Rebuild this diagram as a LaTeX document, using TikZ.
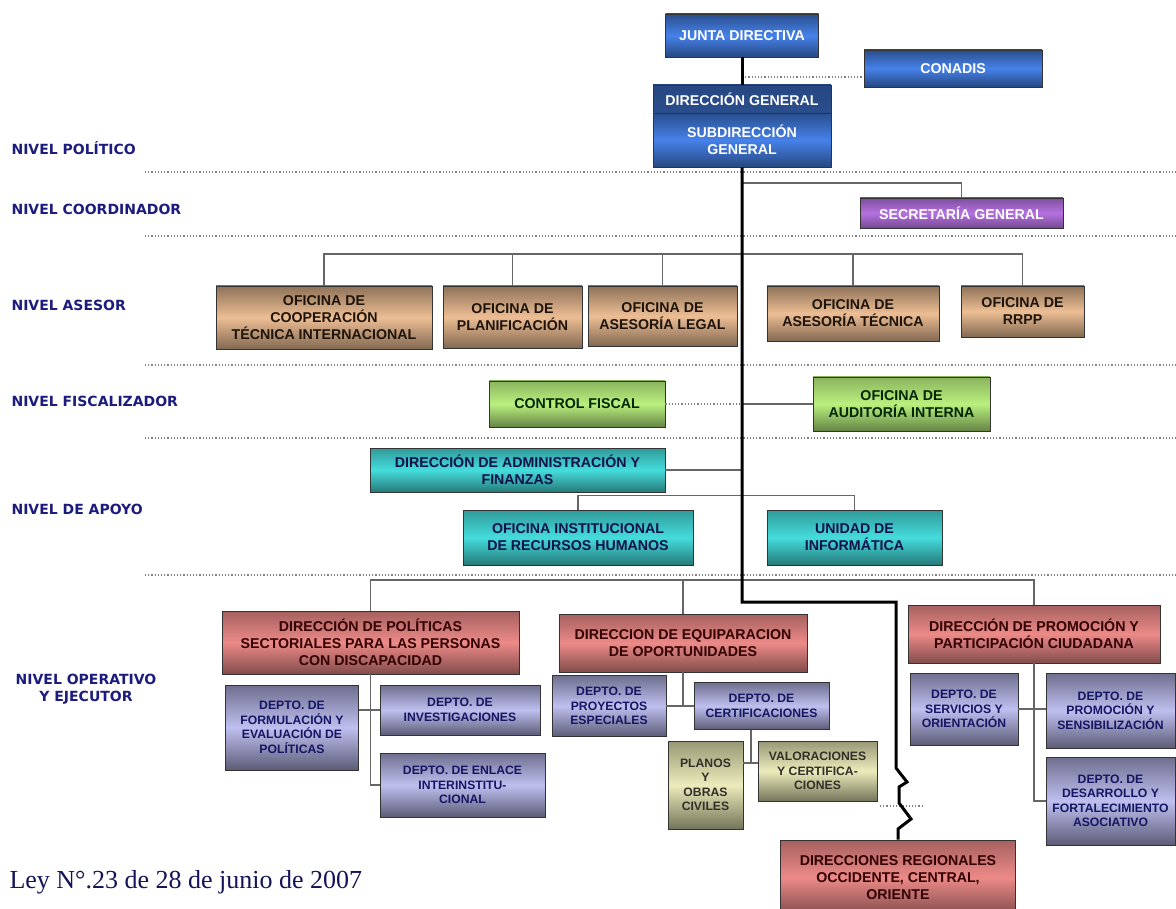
\documentclass[tikz,border=0pt]{standalone}
\usepackage{fontspec}
\setmainfont{Liberation Sans}
\newfontfamily\leyfont{Liberation Serif}
\newfontfamily\nivfont{DejaVu Sans}
\usepackage{tikz}

\definecolor{azul}{HTML}{4682EA}
\definecolor{lila}{HTML}{B571E0}
\definecolor{cuero}{HTML}{EDBE94}
\definecolor{verde}{HTML}{B9F07E}
\definecolor{turquesa}{HTML}{45DCDC}
\definecolor{rosa}{HTML}{EC8A88}
\definecolor{lavanda}{HTML}{B8B8EE}
\definecolor{caqui}{HTML}{E9E9B4}
\definecolor{marino}{HTML}{1C1C7E}

\tikzset{
  caja/.style={draw=black!80, line width=0.9pt, align=center, inner sep=1pt,
    font=\bfseries\fontsize{14.2}{17}\selectfont},
  depto/.style={caja, font=\bfseries\fontsize{12.2}{14.5}\selectfont},
  azulcaja/.style={caja, top color=azul!60!black, bottom color=azul!55!black, middle color=azul, text=white},
  lilacaja/.style={caja, top color=lila!70!black, bottom color=lila!65!black, middle color=lila, text=white},
  cuerocaja/.style={caja, top color=cuero!60!black, bottom color=cuero!55!black, middle color=cuero, text=black!85!brown},
  verdecaja/.style={caja, top color=verde!75!black, bottom color=verde!55!black, middle color=verde, text=black!85!green},
  turqcaja/.style={caja, top color=turquesa!70!black, bottom color=turquesa!55!black, middle color=turquesa, text=marino!60!black},
  rosacaja/.style={caja, top color=rosa!70!black, bottom color=rosa!55!black, middle color=rosa, text=black!80!red},
  lavcaja/.style={depto, top color=lavanda!60!black, bottom color=lavanda!50!black, middle color=lavanda!90!white, text=marino!80!black},
  caquicaja/.style={depto, top color=caqui!65!black, bottom color=caqui!50!black, middle color=caqui!90!white, text=black!85!olive},
  nivel/.style={text=marino, align=center, font=\nivfont\bfseries\fontsize{14}{16.5}\selectfont},
  sep/.style={gray, dotted, line width=1.2pt},
  linea/.style={black!60, line width=1.3pt},
  tronco/.style={black, line width=3pt},
}

\begin{document}
\begin{tikzpicture}[x=1pt, y=-1pt]

    \fill[white] (0,0) rectangle (1176,909);
    \useasboundingbox (0,0) rectangle (1176,909);

    \foreach \y in {172,236,365,438,575}
        \draw[sep] (145,\y) -- (1176,\y);

    \node[nivel, anchor=west] (npol) at (8,148) {NIVEL POLÍTICO};
    \node[nivel, anchor=west] (ncoo) at (8,209) {NIVEL COORDINADOR};
    \node[nivel, anchor=west] (nase) at (8,305) {NIVEL ASESOR};
    \node[nivel, anchor=west] (nfis) at (8,401) {NIVEL FISCALIZADOR};
    \node[nivel, anchor=west] (napo) at (8,509) {NIVEL DE APOYO};
    \node[nivel] (nope) at (86,689) {NIVEL OPERATIVO\\Y EJECUTOR};

    \node[anchor=west, text=marino!70!black, font=\leyfont\fontsize{26}{30}\selectfont] (ley) at (6,882) {Ley N°.23 de 28 de junio de 2007};

    \node[azulcaja, minimum width=153, minimum height=43] (jd) at (742,35.5) {JUNTA DIRECTIVA};
    \node[azulcaja, minimum width=178, minimum height=37] (con) at (953,68.5) {CONADIS};
    \node[azulcaja, top color=azul!55!black, middle color=azul!85!black, bottom color=azul!60!black, minimum width=178, minimum height=28] (dg) at (742,99) {DIRECCIÓN GENERAL};
    \node[azulcaja, minimum width=178, minimum height=54] (sdg) at (742,140) {SUBDIRECCIÓN\\GENERAL};
    \node[lilacaja, minimum width=203, minimum height=30] (sec) at (961.5,213) {SECRETARÍA GENERAL};

    \node[cuerocaja, minimum width=216, minimum height=63] (coop) at (324,317.5) {OFICINA DE\\COOPERACIÓN\\TÉCNICA INTERNACIONAL};
    \node[cuerocaja, minimum width=139, minimum height=62] (plan) at (512.5,317) {OFICINA DE\\PLANIFICACIÓN};
    \node[cuerocaja, minimum width=149, minimum height=60] (legal) at (662.5,316) {OFICINA DE\\ASESORÍA LEGAL};
    \node[cuerocaja, minimum width=172, minimum height=55] (tec) at (853,313.5) {OFICINA DE\\ASESORÍA TÉCNICA};
    \node[cuerocaja, minimum width=123, minimum height=51] (rrpp) at (1022.5,311.5) {OFICINA DE\\RRPP};

    \node[verdecaja, minimum width=176, minimum height=46] (cf) at (577,404) {CONTROL FISCAL};
    \node[verdecaja, minimum width=177, minimum height=54] (aud) at (901.5,404) {OFICINA DE\\AUDITORÍA INTERNA};

    \node[turqcaja, minimum width=295, minimum height=44] (adm) at (517.5,470) {DIRECCIÓN DE ADMINISTRACIÓN Y\\FINANZAS};
    \node[turqcaja, minimum width=230, minimum height=55] (rrhh) at (578,537.5) {OFICINA INSTITUCIONAL\\DE RECURSOS HUMANOS};
    \node[turqcaja, minimum width=175, minimum height=55] (inf) at (854.5,537.5) {UNIDAD DE\\INFORMÁTICA};

    \node[rosacaja, minimum width=297, minimum height=63] (pol) at (370.5,642.5) {DIRECCIÓN DE POLÍTICAS\\SECTORIALES PARA LAS PERSONAS\\CON DISCAPACIDAD};
    \node[rosacaja, minimum width=248, minimum height=58] (equ) at (683,643) {DIRECCION DE EQUIPARACION\\DE OPORTUNIDADES};
    \node[rosacaja, minimum width=252, minimum height=58] (prom) at (1034,634) {DIRECCIÓN DE PROMOCIÓN Y\\PARTICIPACIÓN CIUDADANA};
    \node[rosacaja, minimum width=235, minimum height=75] (reg) at (898,877.5) {DIRECCIONES REGIONALES\\OCCIDENTE, CENTRAL,\\ORIENTE};

    \node[lavcaja, minimum width=133, minimum height=85] (for) at (292,727.5) {DEPTO. DE\\FORMULACIÓN Y\\EVALUACIÓN DE\\POLÍTICAS};
    \node[lavcaja, minimum width=160, minimum height=50] (inv) at (460,710) {DEPTO. DE\\INVESTIGACIONES};
    \node[lavcaja, minimum width=165, minimum height=64] (enl) at (462.5,785) {DEPTO. DE ENLACE\\INTERINSTITU-\\CIONAL};
    \node[lavcaja, minimum width=114, minimum height=61] (pro) at (609,706) {DEPTO. DE\\PROYECTOS\\ESPECIALES};
    \node[lavcaja, minimum width=135, minimum height=47] (cer) at (761.5,706) {DEPTO. DE\\CERTIFICACIONES};
    \node[caquicaja, minimum width=75, minimum height=88] (pla) at (705.5,785) {PLANOS\\Y\\OBRAS\\CIVILES};
    \node[caquicaja, minimum width=119, minimum height=60] (val) at (817.5,771) {VALORACIONES\\Y CERTIFICA-\\CIONES};
    \node[lavcaja, minimum width=108, minimum height=72] (ser) at (964,709) {DEPTO. DE\\SERVICIOS Y\\ORIENTACIÓN};
    \node[lavcaja, minimum width=129, minimum height=75] (sen) at (1110.5,710.5) {DEPTO. DE\\PROMOCIÓN Y\\SENSIBILIZACIÓN};
    \node[lavcaja, minimum width=129, minimum height=88] (des) at (1110.5,801) {DEPTO. DE\\DESARROLLO Y\\FORTALECIMIENTO\\ASOCIATIVO};

    \coordinate (cn) at (742,77);
    \coordinate (tc) at (742,183);
    \coordinate (ab) at (742,254);
    \coordinate (ob) at (742,580);
    \coordinate (cv) at (751,763);
    \coordinate (rd) at (880,806);

    \draw[sep] (cn) -- (cn -| con.west);
    \draw[linea] (tc) -| (sec.north);

    \draw[linea] (coop.north) |- (ab) -| (rrpp.north);
    \foreach \n in {plan,legal,tec}
        \draw[linea] (\n.north) -- (\n.north |- ab);

    \draw[sep] (cf.east) -- (cf.east -| tc);
    \draw[linea] (aud.west) -- (aud.west -| tc);

    \draw[linea] (adm.east) -- (adm.east -| tc);
    \draw[linea] (rrhh.north) -- ++(0,-14) -| (inf.north);

    \draw[linea] (pol.north) |- (ob) -| (prom.north);
    \draw[linea] (equ.north) -- (equ.north |- ob);

    \draw[linea] (pol.south) |- (enl.west);
    \draw[linea] (inv.west) -- (inv.west -| for.east);
    \draw[linea] (equ.south) -- (equ.south |- cer.west);
    \draw[linea] (pro.east) -- (cer.west);
    \draw[linea] (cer.south -| cv) -- (cv);
    \draw[linea] (pla.east |- cv) -- (val.west |- cv);
    \draw[linea] (prom.south) |- (des.west);
    \draw[linea] (ser.east) -- (ser.east -| sen.west);

    \draw[sep] (rd) -- ++(44,0);

    \draw[tronco] (jd.south) -- (dg.north);
    \draw[tronco] (sdg.south) -- (742,602) -- (896,602) -- (896,768) -- (907,782) -- (899,787)
        -- (899,803) -- (911,819) -- (898,829) -- (reg.north);

\end{tikzpicture}
\end{document}
